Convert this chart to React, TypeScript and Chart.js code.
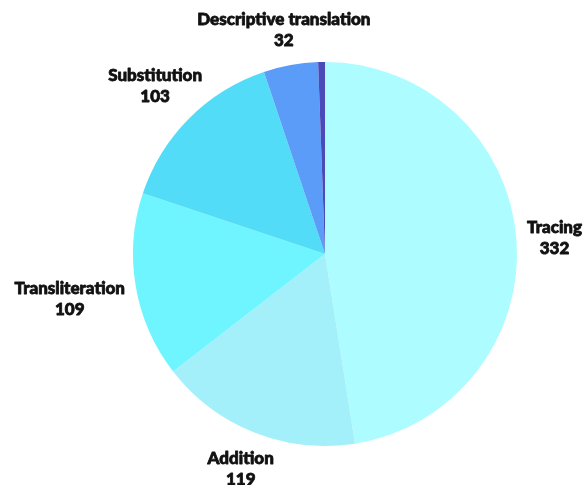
import React, { useEffect, useRef } from "react";
import { Chart, registerables } from "chart.js";

Chart.register(...registerables);

const categories = ["Tracing", "Addition", "Transliteration", "Substitution", "Descriptive translation", "Other"];
const values = [332, 119, 109, 103, 32, 4];
const colors = ["#adfcff", "#a3f0fb", "#6ff5ff", "#52dcf7", "#5a9cf7", "#4a4ab8"];
const showLabel = [true, true, true, true, true, false];

const FONT = "900 17px Lato";
const LINE_H = 21;
const PAD = 10;
const SHIFT_Y = 2;

const labelPlugin = {
  id: "outerLabels",
  afterDatasetsDraw(chart: any) {
    const ctx = chart.ctx;
    const meta = chart.getDatasetMeta(0);
    ctx.save();
    ctx.font = FONT;
    ctx.fillStyle = "#111";
    ctx.strokeStyle = "#111";
    ctx.lineWidth = 0.8;
    ctx.lineJoin = "round";
    ctx.textAlign = "center";
    ctx.textBaseline = "middle";
    meta.data.forEach((arc: any, i: number) => {
      if (!showLabel[i]) return;
      const { x, y, startAngle, endAngle, outerRadius } = arc.getProps(["x", "y", "startAngle", "endAngle", "outerRadius"], true);
      const mid = (startAngle + endAngle) / 2;
      const dx = Math.cos(mid);
      const dy = Math.sin(mid);
      const lines = [categories[i], String(values[i])];
      const w = Math.max(...lines.map((l) => ctx.measureText(l).width));
      const hw = w / 2;
      const hh = (lines.length * LINE_H) / 2;
      const dMin = Math.min(Math.abs(dx) > 1e-6 ? hw / Math.abs(dx) : Infinity, Math.abs(dy) > 1e-6 ? hh / Math.abs(dy) : Infinity);
      const dSup = hw * Math.abs(dx) + hh * Math.abs(dy);
      const d = 0.55 * dMin + 0.45 * dSup;
      const cx = x + dx * (outerRadius + PAD + d);
      const cy = y + dy * (outerRadius + PAD + d) + SHIFT_Y;
      lines.forEach((l, k) => {
        const ty = cy - hh + LINE_H * (k + 0.5);
        ctx.strokeText(l, cx, ty);
        ctx.fillText(l, cx, ty);
      });
    });
    ctx.restore();
  },
};

export default function App() {
  const ref = useRef<HTMLCanvasElement>(null);
  useEffect(() => {
    document.body.style.margin = "0";
    const chart = new Chart(ref.current!, {
      type: "pie",
      data: {
        labels: categories,
        datasets: [
          {
            data: values,
            backgroundColor: colors,
            borderWidth: 0,
          },
        ],
      },
      options: {
        animation: false,
        responsive: false,
        layout: { padding: { top: 62, bottom: 39, left: 133, right: 67 } },
        plugins: { legend: { display: false }, tooltip: { enabled: false } },
      },
      plugins: [labelPlugin],
    });
    return () => chart.destroy();
  }, []);
  return <canvas ref={ref} width={584} height={485} style={{ display: "block" }} />;
}
